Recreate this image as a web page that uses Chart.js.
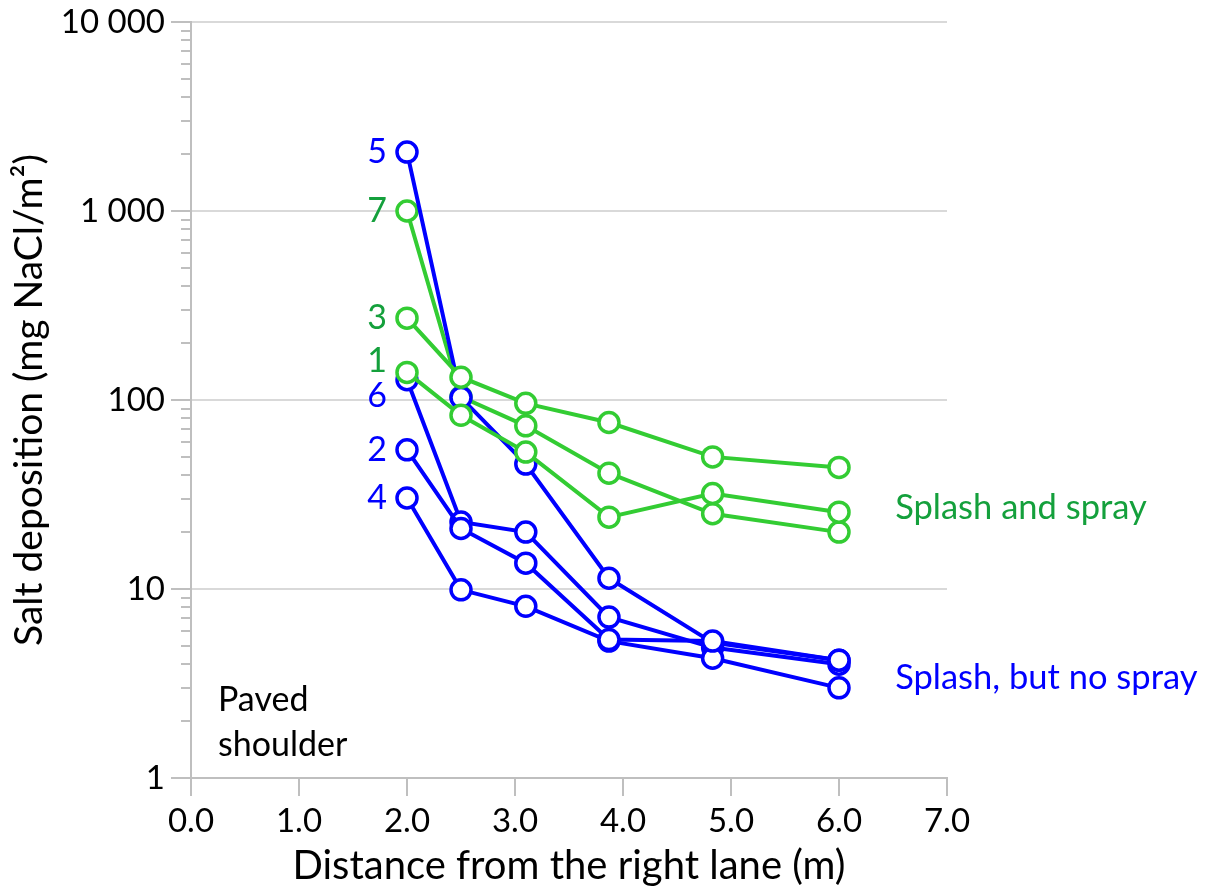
<!DOCTYPE html>
<html>
<head>
<meta charset="utf-8">
<script src="https://cdn.jsdelivr.net/npm/chart.js@4/dist/chart.umd.min.js"></script>
<style>
  html, body { margin: 0; padding: 0; background: #ffffff; }
  #wrap { width: 1206px; height: 892px; }
</style>
</head>
<body>
<div id="wrap"><canvas id="c" width="1206" height="892"></canvas></div>
<script>
// Distance of each collector from the right lane (m)
const distances = [2.0, 2.5, 3.1, 3.87, 4.83, 6.0];

// Salt deposition per site (mg NaCl/m²)
const site1 = [140, 83, 53, 24, 32, 25.5];
const site2 = [54.5, 20.9, 13.7, 5.4, 5.3, 4.2];
const site3 = [271, 132, 96, 76, 50, 44];
const site4 = [30.3, 9.9, 8.1, 5.3, 4.3, 3.0];
const site5 = [2050, 103, 45.8, 11.4, 5.2, 4.2];
const site6 = [128, 22.6, 20.0, 7.1, 4.9, 4.0];
const site7 = [1000, 104, 73, 41, 25, 20];

const siteNames = ['1', '2', '3', '4', '5', '6', '7'];
const siteGroups = ['spray', 'splash', 'spray', 'splash', 'splash', 'splash', 'spray'];
const siteValues = [site1, site2, site3, site4, site5, site6, site7];

const xTickValues = [0, 1, 2, 3, 4, 5, 6, 7];
const xTickLabels = ['0.0', '1.0', '2.0', '3.0', '4.0', '5.0', '6.0', '7.0'];
const yTickValues = [1, 10, 100, 1000, 10000];
const yTickLabels = ['1', '10', '100', '1 000', '10 000'];

const groupTexts = { spray: 'Splash and spray', splash: 'Splash, but no spray' };

// ---- styling ----
const FONT = 'Lato, "Open Sans", sans-serif';
const AXIS_GREY = '#BFBFBF';
const GRID_GREY = '#D9D9D9';
const palette = {
  spray:  { line: '#33CC33', text: '#14A03C' },
  splash: { line: '#0000FF', text: '#0000FF' }
};
// vertical nudges for the site numbers so neighbouring ones stay readable
const nameNudge = { '1': -11, '6': 16 };

const datasets = siteNames.map((name, i) => {
  const col = palette[siteGroups[i]].line;
  return {
    label: name,
    data: distances.map((d, j) => ({ x: d, y: siteValues[i][j] })),
    borderColor: col,
    borderWidth: 4,
    pointRadius: 10,
    pointBorderWidth: 3.5,
    pointBackgroundColor: '#ffffff',
    pointBorderColor: col,
    tension: 0,
    fill: false
  };
});

const decorPlugin = {
  id: 'decor',
  afterDraw(chart) {
    const { ctx, chartArea, scales } = chart;
    const xs = scales.x, ys = scales.y;
    ctx.save();

    // y-axis tick marks: long at decades, short at 2..9
    ctx.strokeStyle = AXIS_GREY;
    ctx.lineWidth = 2;
    ctx.beginPath();
    yTickValues.forEach((dec) => {
      const py = Math.round(ys.getPixelForValue(dec));
      ctx.moveTo(chartArea.left - 20, py);
      ctx.lineTo(chartArea.left, py);
      if (dec < 10000) {
        for (let m = 2; m <= 9; m++) {
          const pm = Math.round(ys.getPixelForValue(dec * m));
          ctx.moveTo(chartArea.left - 10, pm);
          ctx.lineTo(chartArea.left, pm);
        }
      }
    });
    // x-axis tick marks
    xTickValues.forEach((v) => {
      const px = Math.round(xs.getPixelForValue(v));
      ctx.moveTo(px, chartArea.bottom);
      ctx.lineTo(px, chartArea.bottom + 18);
    });
    ctx.stroke();

    // site numbers beside the first point of each line
    ctx.font = '34px ' + FONT;
    ctx.textAlign = 'right';
    ctx.textBaseline = 'middle';
    chart.data.datasets.forEach((ds, i) => {
      const pt = chart.getDatasetMeta(i).data[0];
      ctx.fillStyle = palette[siteGroups[i]].text;
      ctx.fillText(ds.label, pt.x - 20, pt.y + (nameNudge[ds.label] || 0));
    });

    // group captions on the right
    ctx.textAlign = 'left';
    ctx.font = '34.5px ' + FONT;
    ctx.fillStyle = palette.spray.text;
    ctx.fillText(groupTexts.spray, xs.getPixelForValue(6.52), ys.getPixelForValue(26.8));
    ctx.fillStyle = palette.splash.text;
    ctx.fillText(groupTexts.splash, xs.getPixelForValue(6.52), ys.getPixelForValue(3.38));

    // shoulder note
    ctx.fillStyle = '#000000';
    ctx.font = '34px ' + FONT;
    const sx = xs.getPixelForValue(0.25);
    const sy = ys.getPixelForValue(2.59);
    ctx.fillText('Paved', sx, sy);
    ctx.fillText('shoulder', sx, sy + 45);

    ctx.restore();
  }
};

new Chart(document.getElementById('c'), {
  type: 'line',
  data: { datasets },
  plugins: [decorPlugin],
  options: {
    responsive: false,
    animation: false,
    devicePixelRatio: 1,
    layout: { padding: { left: 0, top: 22, right: 259, bottom: 0 } },
    plugins: { legend: { display: false }, tooltip: { enabled: false } },
    scales: {
      x: {
        type: 'linear',
        min: 0,
        max: 7,
        afterBuildTicks: (s) => { s.ticks = xTickValues.map((v) => ({ value: v })); },
        afterFit: (s) => { s.height = 114; s.paddingLeft = 0; s.paddingRight = 0; },
        ticks: {
          autoSkip: false,
          maxRotation: 0,
          padding: 24,
          color: '#000000',
          font: { family: FONT, size: 33 },
          callback: (v) => xTickLabels[xTickValues.indexOf(v)]
        },
        grid: { display: false, drawTicks: false },
        border: { display: true, color: AXIS_GREY, width: 2 },
        title: {
          display: true,
          text: 'Distance from the right lane (m)',
          color: '#000000',
          font: { family: FONT, size: 40 },
          padding: { top: 0, bottom: 2 }
        }
      },
      y: {
        type: 'logarithmic',
        min: 1,
        max: 10000,
        afterBuildTicks: (s) => { s.ticks = yTickValues.map((v) => ({ value: v })); },
        afterFit: (s) => { s.width = 191; s.paddingTop = 0; s.paddingBottom = 0; },
        ticks: {
          padding: 26,
          color: '#000000',
          font: { family: FONT, size: 33 },
          callback: (v) => yTickLabels[yTickValues.indexOf(v)]
        },
        grid: {
          drawTicks: false,
          lineWidth: 2,
          color: (c) => (c.tick && c.tick.value > 1 ? GRID_GREY : 'rgba(0,0,0,0)')
        },
        border: { display: true, color: AXIS_GREY, width: 2 },
        title: {
          display: true,
          text: 'Salt deposition (mg NaCl/m²)',
          color: '#000000',
          font: { family: FONT, size: 39 },
          padding: { top: 6, bottom: 0 }
        }
      }
    }
  }
});
</script>
</body>
</html>
